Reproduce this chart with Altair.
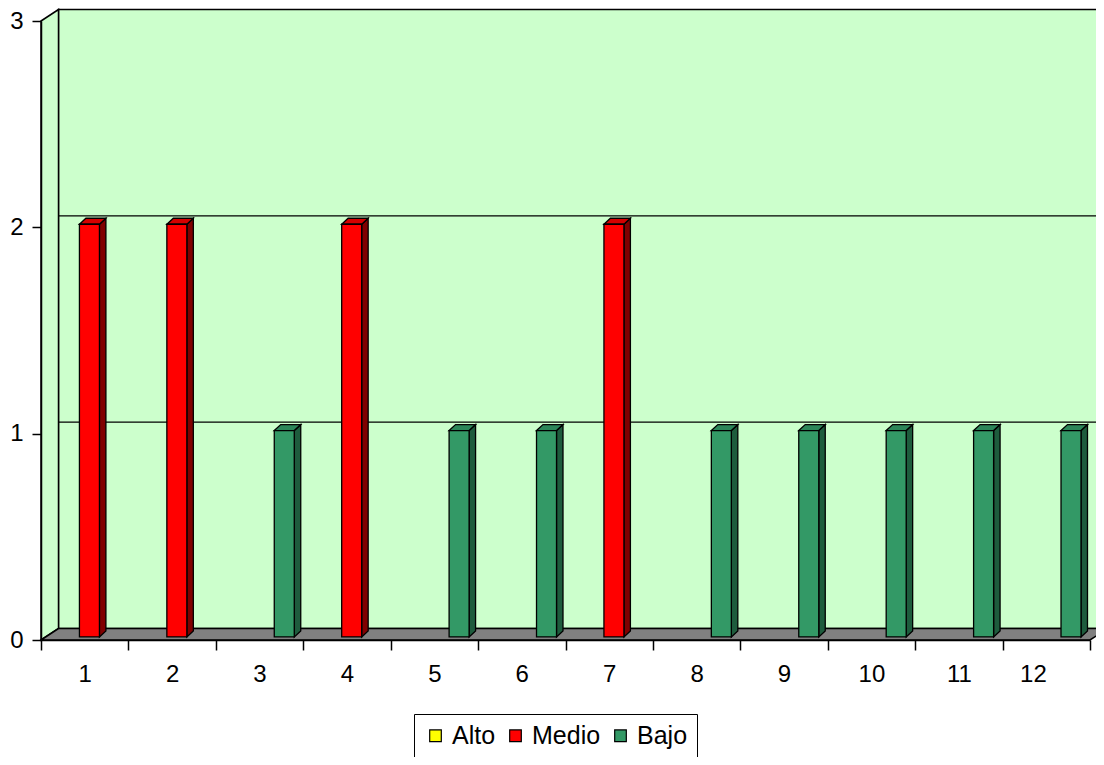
import altair as alt
import pandas as pd

# ---- data ----
categories = list(range(1, 13))
series = ["Alto", "Medio", "Bajo"]
alto = [0, 0, 0, 0, 0, 0, 0, 0, 0, 0, 0, 0]
medio = [2, 2, 0, 2, 0, 0, 2, 0, 0, 0, 0, 0]
bajo = [0, 0, 1, 0, 1, 1, 0, 1, 1, 1, 1, 1]
y_ticks = [0, 1, 2, 3]
x_bounds = list(range(0, 13))

front_colors = ["#FFFF00", "#FF0000", "#339966"]
top_colors = ["#D6D600", "#D40000", "#2C8659"]
side_colors = ["#808000", "#800000", "#1E5C3D"]

# ---- geometry (style) ----
W, H = 1049, 619
STEP_PX = W / len(categories)
DX = 17.5 / STEP_PX        # wall depth, category units
DY = 11.5 / (H / 3)        # wall depth, value units
BAR_W = 20 / STEP_PX
FX, FY = 0.27, 0.27        # bar front face depth fraction
BX, BY = 0.64, 0.79        # bar back face depth fraction
FONT = "Liberation Sans"

values = {"Alto": alto, "Medio": medio, "Bajo": bajo}

front_rows, side_rows, top_rows = [], [], []
for k, s in enumerate(series):
    for i, cat in enumerate(categories):
        v = values[s][i]
        if v <= 0:
            continue
        c = cat - 0.5 + (k - 1) * BAR_W
        xl, xr = c - BAR_W / 2, c + BAR_W / 2
        bid = f"{s}-{cat}"
        front_rows.append(dict(series=s, x=xl + FX * DX, x2=xr + FX * DX,
                               y=FY * DY, y2=v + FY * DY))
        side_rows += [
            dict(bid=bid, col=side_colors[k], x=xr + FX * DX, y=v + FY * DY, y2=FY * DY),
            dict(bid=bid, col=side_colors[k], x=xr + BX * DX, y=v + BY * DY, y2=BY * DY),
        ]
        top_rows += [
            dict(bid=bid, col=top_colors[k], x=xl + FX * DX, y=v + FY * DY, y2=v + FY * DY),
            dict(bid=bid, col=top_colors[k], x=xl + BX * DX, y=v + BY * DY, y2=v + FY * DY),
            dict(bid=bid, col=top_colors[k], x=xr + FX * DX, y=v + BY * DY, y2=v + FY * DY),
            dict(bid=bid, col=top_colors[k], x=xr + BX * DX, y=v + BY * DY, y2=v + BY * DY),
        ]

front_df = pd.DataFrame(front_rows)
side_df = pd.DataFrame(side_rows)
top_df = pd.DataFrame(top_rows)

n = len(categories)
ymax = max(y_ticks)
back_df = pd.DataFrame([dict(x=DX, x2=n + DX, y=DY, y2=ymax + DY)])
grid_df = pd.DataFrame([dict(y=t + DY, x=DX, x2=n + DX) for t in y_ticks[1:-1]])
sidewall_df = pd.DataFrame([dict(x=0, y=ymax, y2=0), dict(x=DX, y=ymax + DY, y2=DY)])
floor_df = pd.DataFrame([dict(x=0, y=0, y2=0), dict(x=DX, y=DY, y2=0),
                         dict(x=n, y=DY, y2=0), dict(x=n + DX, y=DY, y2=DY)])

xs = alt.Scale(domain=[0, n], nice=False, zero=False)
ys = alt.Scale(domain=[0, ymax], nice=False, zero=False)

x_axis = alt.Axis(values=x_bounds, labelExpr="datum.value == 0 ? '' : datum.value",
                  labelOffset=-STEP_PX / 2, tickSize=10, tickColor="black", tickWidth=1.5,
                  domainColor="black", domainWidth=1.5, labelColor="black", labelFont=FONT,
                  labelFontSize=24, labelPadding=12, title=None, grid=False, zindex=1,
                  labelOverlap=False)
y_axis = alt.Axis(values=y_ticks, tickSize=9, tickColor="black", tickWidth=1.5,
                  domainColor="black", domainWidth=1.5,
                  labelColor="black", labelFont=FONT, labelFontSize=24, labelPadding=9,
                  title=None, grid=False, zindex=1)


def X(field="x:Q"):
    return alt.X(field, scale=xs, axis=x_axis)


def Y(field="y:Q"):
    return alt.Y(field, scale=ys, axis=y_axis, stack=None)


back = alt.Chart(back_df).mark_rect(fill="#CCFFCC", stroke="black", strokeWidth=1.5).encode(
    x=X(), x2="x2:Q", y=Y(), y2="y2:Q")

grid = alt.Chart(grid_df).mark_rule(color="black", strokeWidth=1.2).encode(
    x=X(), x2="x2:Q", y=Y())

sidewall = alt.Chart(sidewall_df).mark_area(fill="#CCFFCC", stroke="black", strokeWidth=1.5,
                                            orient="vertical").encode(
    x=X(), y=Y(), y2="y2:Q")

floor = alt.Chart(floor_df).mark_area(fill="#808080", stroke="black", strokeWidth=1.5,
                                      orient="vertical").encode(
    x=X(), y=Y(), y2="y2:Q")

side = alt.Chart(side_df).mark_area(stroke="black", strokeWidth=1.3, orient="vertical").encode(
    x=X(), y=Y(), y2="y2:Q",
    fill=alt.Fill("col:N", scale=None), detail="bid:N")

top = alt.Chart(top_df).mark_area(stroke="black", strokeWidth=1.3, orient="vertical").encode(
    x=X(), y=Y(), y2="y2:Q",
    fill=alt.Fill("col:N", scale=None), detail="bid:N")

front = alt.Chart(front_df).mark_rect(stroke="black", strokeWidth=1.3).encode(
    x=X(), x2="x2:Q", y=Y(), y2="y2:Q",
    color=alt.Color("series:N", scale=alt.Scale(domain=series, range=front_colors),
                    legend=alt.Legend(title=None, orient="none", legendX=373, legendY=693,
                                      direction="horizontal", symbolType="square",
                                      symbolSize=135, symbolStrokeColor="black",
                                      symbolStrokeWidth=1.2, labelFont=FONT, labelFontSize=25,
                                      labelColor="black", strokeColor="black",
                                      fillColor="white", padding=9, columnPadding=7,
                                      labelOffset=4)))

chart = alt.layer(back, grid, sidewall, floor, side, top, front).properties(
    width=W, height=H,
    padding={"left": 33, "top": 13, "right": 6, "bottom": 117},
    autosize=alt.AutoSizeParams(type="none"),
    background="white",
).configure_view(stroke=None)

chart.save("out.html", embed_options={"renderer": "svg", "actions": False})
